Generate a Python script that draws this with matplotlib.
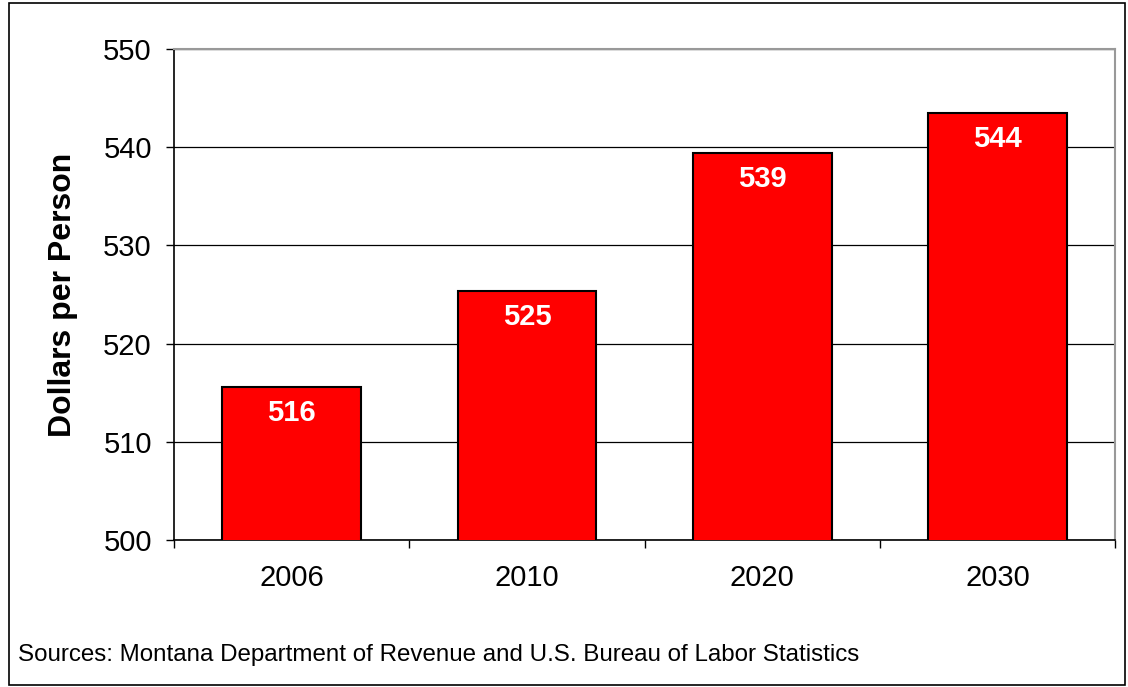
import matplotlib.pyplot as plt
from matplotlib.patches import Rectangle

years = ['2006', '2010', '2020', '2030']
values = [515.6, 525.4, 539.4, 543.5]
labels = ['516', '525', '539', '544']

plt.rcParams['font.family'] = ['Liberation Sans', 'DejaVu Sans']

fig = plt.figure(figsize=(11.28, 6.87), dpi=100)
ax = fig.add_axes([0.1543, 0.214, 0.8342, 0.7147])

x = range(len(years))
ax.bar(x, values, width=0.59, color='#ff0000', edgecolor='black',
       linewidth=1.5, zorder=3)

for i, (v, lab) in enumerate(zip(values, labels)):
    ax.annotate(lab, (i, v), xytext=(0, -19), textcoords='offset points',
                ha='center', va='center', color='white', fontsize=21,
                fontweight='bold', zorder=4)

ax.set_ylim(500, 550)
ax.set_xlim(-0.5, 3.5)
ax.set_yticks(range(500, 551, 10))
ax.yaxis.grid(True, color='black', linewidth=0.9, zorder=0)
ax.set_axisbelow(True)

ax.set_xticks([0, 1, 2, 3])
ax.set_xticklabels(years)
ax.set_xticks([-0.5, 0.5, 1.5, 2.5, 3.5], minor=True)
ax.tick_params(axis='x', which='major', length=0, pad=17, labelsize=21)
ax.tick_params(axis='x', which='minor', length=6, width=1, direction='out')
ax.tick_params(axis='y', length=6, width=1, direction='out', pad=10,
               labelsize=21)

ax.spines['top'].set_color('#999999')
ax.spines['right'].set_color('#999999')
ax.spines['top'].set_linewidth(1.5)
ax.spines['right'].set_linewidth(1.5)
ax.spines['left'].set_linewidth(1.2)
ax.spines['bottom'].set_linewidth(1.2)

ax.set_ylabel('Dollars per Person', fontsize=23, fontweight='bold',
              labelpad=18)

fig.text(0.016, 0.047, 'Sources: Montana Department of Revenue and U.S. Bureau of Labor Statistics',
         fontsize=17.4, va='center', ha='left')

fig.patches.append(Rectangle((0.008, 0.003), 0.989, 0.992,
                             transform=fig.transFigure, fill=False,
                             edgecolor='black', linewidth=1.2))

plt.savefig('out.png', dpi=100)
